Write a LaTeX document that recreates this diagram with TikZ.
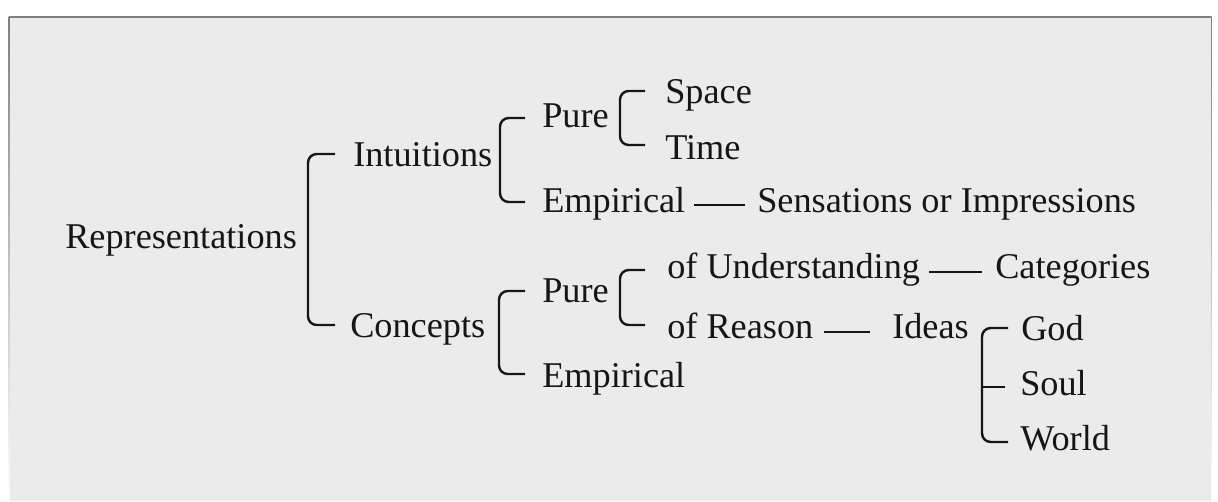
\documentclass[tikz,border=0pt]{standalone}
\usepackage{fontspec}
\setmainfont{Liberation Serif}
\usetikzlibrary{calc}
\definecolor{panel}{HTML}{EBEBEB}
\definecolor{shade}{HTML}{E6E6E6}
\definecolor{ink}{HTML}{161616}
\tikzset{
  lbl/.style={anchor=base west, inner sep=0pt, text=ink, font=\fontsize{27.2}{32}\selectfont},
  brk/.style={draw=ink, line width=1.8pt, rounded corners=6.5pt},
  dashline/.style={draw=ink, line width=1.8pt}
}
\begin{document}
\begin{tikzpicture}[x=0.75pt, y=-0.75pt]
\path[use as bounding box, fill=white] (0,0) rectangle (1218,501);
\fill[shade] (8.5,16.5) rectangle (1211.5,501);
\fill[panel] (9.5,17.5) rectangle (1210.5,501);

\node[lbl] (repr) at (65,248) {Representations};
\node[lbl] (intu) at (353,166) {Intuitions};
\node[lbl] (conc) at (350,337) {Concepts};
\node[lbl] (pure1) at (542,127) {Pure};
\node[lbl] (emp1) at (542,212) {Empirical};
\node[lbl] (space) at (665,103) {Space};
\node[lbl] (time) at (665,159) {Time};
\node[lbl] (sens) at (757,212) {Sensations or Impressions};
\node[lbl] (pure2) at (542,302) {Pure};
\node[lbl] (emp2) at (542,387) {Empirical};
\node[lbl] (under) at (667,278) {of Understanding};
\node[lbl] (categ) at (995,278) {Categories};
\node[lbl] (reason) at (667,338) {of Reason};
\node[lbl] (ideas) at (892,338) {Ideas};
\node[lbl] (god) at (1021,340) {God};
\node[lbl] (soul) at (1020,395) {Soul};
\node[lbl] (world) at (1020,450) {World};

% brackets
\draw[brk] ($(intu.base west)+(-18,-12)$) -- ++(-27,0) |- ($(conc.base west)+(-15,-12)$);
\draw[brk] ($(pure1.base west)+(-17,-9)$) -- ++(-25,0) |- ($(emp1.base west)+(-17,-10)$);
\draw[brk] ($(space.base west)+(-20,-12)$) -- ++(-25,0) |- ($(time.base west)+(-20,-14)$);
\draw[brk] ($(pure2.base west)+(-17,-11)$) -- ++(-26,0) |- ($(emp2.base west)+(-17,-13)$);
\draw[brk] ($(under.base west)+(-22,-8)$) -- ++(-25,0) |- ($(reason.base west)+(-22,-13)$);
\draw[brk] ($(god.base west)+(-13,-12)$) -- ++(-26,0) |- ($(world.base west)+(-12,-8)$);
\draw[dashline] ($(soul.base west)+(-15,-8)$) -- ++(-24,0);

% connecting dashes
\draw[dashline] ($(emp1.base east)+(8,-7)$) -- ($(sens.base west)+(-12,-7)$);
\draw[dashline] ($(under.base east)+(9,-6)$) -- ($(categ.base west)+(-13,-6)$);
\draw[dashline] ($(reason.base east)+(10,-6)$) -- ($(ideas.base west)+(-22,-6)$);
\end{tikzpicture}
\end{document}
